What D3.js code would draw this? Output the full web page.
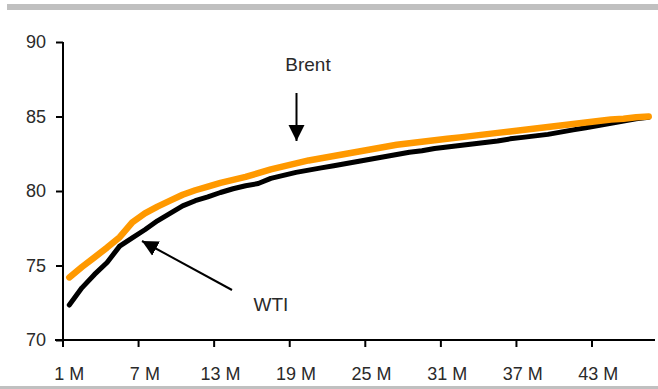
<!DOCTYPE html>
<html>
<head>
<meta charset="utf-8">
<script src="https://cdn.jsdelivr.net/npm/d3@7"></script>
<style>
  html, body { margin: 0; padding: 0; background: #fff; }
  svg { display: block; font-family: "Liberation Sans", Arial, sans-serif; }
</style>
</head>
<body>
<svg id="chart" width="658" height="389"></svg>
<script>
// Forward curve, months 1..47
const months = d3.range(1, 48);

const brent = [
  74.2, 74.9, 75.55, 76.2, 76.9, 77.9, 78.5, 78.95, 79.35, 79.75,
  80.05, 80.3, 80.55, 80.75, 80.95, 81.2, 81.45, 81.65, 81.85, 82.05,
  82.2, 82.35, 82.5, 82.65, 82.8, 82.95, 83.1, 83.2, 83.3, 83.4,
  83.5, 83.6, 83.7, 83.8, 83.9, 84.0, 84.1, 84.2, 84.3, 84.4,
  84.5, 84.6, 84.7, 84.8, 84.85, 84.95, 85.0
];

const wti = [
  72.35, 73.5, 74.4, 75.2, 76.3, 76.85, 77.4, 78.0, 78.5, 79.0,
  79.35, 79.6, 79.9, 80.15, 80.35, 80.5, 80.85, 81.05, 81.25, 81.4,
  81.55, 81.7, 81.85, 82.0, 82.15, 82.3, 82.45, 82.6, 82.7, 82.85,
  82.95, 83.05, 83.15, 83.25, 83.35, 83.5, 83.6, 83.7, 83.8, 83.95,
  84.1, 84.25, 84.4, 84.55, 84.7, 84.85, 84.95
];

const yTicks = [70, 75, 80, 85, 90];
const xTickMonths = [1, 7, 13, 19, 25, 31, 37, 43];
const xTickLabels = xTickMonths.map(m => m + " M");

const svg = d3.select("#chart");
const W = 658, H = 389;
const plotLeft = 63, plotRight = 655, plotTop = 42, plotBottom = 340;
const textColor = "#2a2a2a";

// Grey rules framing the chart
svg.append("rect").attr("x", 7).attr("y", 4).attr("width", W - 7).attr("height", 6).attr("fill", "#c0c0c0");
svg.append("rect").attr("x", 0).attr("y", 386).attr("width", W).attr("height", 3).attr("fill", "#c0c0c0");

const x = d3.scaleBand().domain(months).range([plotLeft, plotRight]).padding(0);
const y = d3.scaleLinear().domain([70, 90]).range([plotBottom, plotTop]);
const cx = m => x(m) + x.bandwidth() / 2;

// Y axis
const yAxis = svg.append("g")
  .attr("transform", `translate(${plotLeft},0)`)
  .call(d3.axisLeft(y).tickValues(yTicks).tickSize(7).tickPadding(10).tickFormat(d3.format("d")));
yAxis.select(".domain").attr("stroke", "#000").attr("stroke-width", 2).attr("d", `M0,${plotTop}V${plotBottom}`);
yAxis.selectAll(".tick line").attr("stroke", "#000").attr("stroke-width", 2);
yAxis.selectAll(".tick text").attr("fill", textColor).style("font-size", "18px")
  .style("font-family", "Liberation Sans, Arial, sans-serif");

// X axis: ticks sit on category boundaries, labels centred on categories
const xAxis = svg.append("g")
  .attr("transform", `translate(0,${plotBottom})`)
  .call(d3.axisBottom(x).tickValues(xTickMonths).tickSize(7).tickFormat((d, i) => xTickLabels[i]));
xAxis.select(".domain").attr("stroke", "#000").attr("stroke-width", 2).attr("d", `M${plotLeft - 8},0H${plotRight}`);
xAxis.selectAll(".tick line").attr("stroke", "#000").attr("stroke-width", 2)
  .attr("transform", `translate(${-x.bandwidth() / 2},0)`);
xAxis.selectAll(".tick text").attr("fill", textColor).attr("y", 40).attr("dy", 0)
  .style("font-size", "18px").style("font-family", "Liberation Sans, Arial, sans-serif");

// Curves
const line = d3.line().x((d, i) => cx(months[i])).y(d => y(d));
svg.append("path").datum(wti).attr("d", line)
  .attr("fill", "none").attr("stroke", "#000").attr("stroke-width", 5)
  .attr("stroke-linecap", "round").attr("stroke-linejoin", "round");
svg.append("path").datum(brent).attr("d", line)
  .attr("fill", "none").attr("stroke", "#ff9900").attr("stroke-width", 6.5)
  .attr("stroke-linecap", "round").attr("stroke-linejoin", "round");

// Annotations
svg.append("defs").append("marker")
  .attr("id", "head").attr("viewBox", "0 0 10 10").attr("refX", 10).attr("refY", 5)
  .attr("markerWidth", 8).attr("markerHeight", 8.5).attr("markerUnits", "strokeWidth")
  .attr("orient", "auto")
  .append("path").attr("d", "M0,0L10,5L0,10Z").attr("fill", "#000");

svg.append("text").attr("x", 308).attr("y", 71).attr("text-anchor", "middle")
  .attr("fill", textColor).style("font-size", "19px").text("Brent");
svg.append("line").attr("x1", 296.5).attr("y1", 93).attr("x2", 296.5).attr("y2", 141)
  .attr("stroke", "#000").attr("stroke-width", 2).attr("marker-end", "url(#head)");

svg.append("text").attr("x", 271).attr("y", 311).attr("text-anchor", "middle")
  .attr("fill", textColor).style("font-size", "19px").text("WTI");
svg.append("line").attr("x1", 232).attr("y1", 290).attr("x2", 142).attr("y2", 241)
  .attr("stroke", "#000").attr("stroke-width", 2).attr("marker-end", "url(#head)");
</script>
</body>
</html>
